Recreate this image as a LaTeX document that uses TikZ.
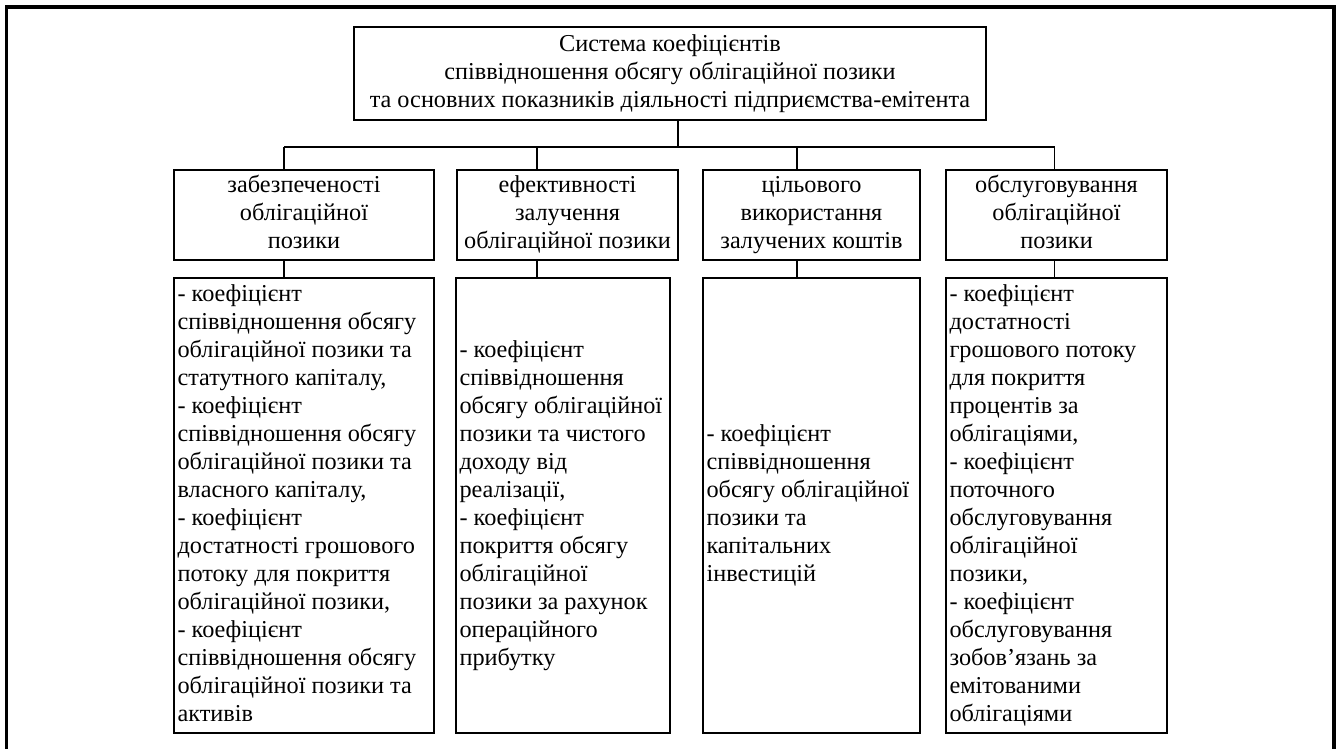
\documentclass[tikz,border=0pt]{standalone}
\usepackage{fontspec}
\setmainfont{Liberation Serif}
\begin{document}
\begin{tikzpicture}[x=0.75pt,y=-0.75pt,
  box/.style={draw,line width=1.1pt,rectangle,inner sep=0pt},
  txt/.style={font=\fontsize{18.2}{21}\selectfont,inner sep=0pt},
  link/.style={line width=1.1pt}]
\useasboundingbox (0,0) rectangle (1336,749);
\draw[line width=2.3pt] (6.5,752) -- (6.5,7) -- (1334,7) -- (1334,752);
% top box
\node[box,minimum width=632*0.75pt,minimum height=93*0.75pt] (top) at (670,73.5) {};
\node[txt,align=center] (toptxt) at (670,73.5) {\strut Система коефіцієнтів\\співвідношення обсягу облігаційної позики\\та основних показників діяльності підприємства-емітента\strut};
% middle boxes
\node[box,minimum width=260*0.75pt,minimum height=90*0.75pt] (b1) at (304,215) {};
\node[box,minimum width=221*0.75pt,minimum height=90*0.75pt] (b2) at (567.5,215) {};
\node[box,minimum width=217*0.75pt,minimum height=90*0.75pt] (b3) at (811.5,215) {};
\node[box,minimum width=221*0.75pt,minimum height=90*0.75pt] (b4) at (1056.5,215) {};
\node[txt,align=center] (b1t) at (b1) {\strut забезпеченості\\облігаційної\\позики\strut};
\node[txt,align=center] (b2t) at (b2) {\strut ефективності\\залучення\\облігаційної позики\strut};
\node[txt,align=center] (b3t) at (b3) {\strut цільового\\використання\\залучених коштів\strut};
\node[txt,align=center] (b4t) at (b4) {\strut обслуговування\\облігаційної\\позики\strut};
% lower boxes
\node[box,minimum width=260*0.75pt,minimum height=455*0.75pt] (l1) at (304,505.5) {};
\node[box,minimum width=214*0.75pt,minimum height=455*0.75pt] (l2) at (563,505.5) {};
\node[box,minimum width=217*0.75pt,minimum height=455*0.75pt] (l3) at (811.5,505.5) {};
\node[box,minimum width=221*0.75pt,minimum height=455*0.75pt] (l4) at (1056.5,505.5) {};
\node[txt,align=left,anchor=west] (l1t) at ([xshift=3pt]l1.west) {\strut - коефіцієнт\\співвідношення обсягу\\облігаційної позики та\\статутного капіталу,\\- коефіцієнт\\співвідношення обсягу\\облігаційної позики та\\власного капіталу,\\- коефіцієнт\\достатності грошового\\потоку для покриття\\облігаційної позики,\\- коефіцієнт\\співвідношення обсягу\\облігаційної позики та\\активів\strut};
\node[txt,align=left,anchor=west] (l2t) at ([xshift=3pt]l2.west) {\strut - коефіцієнт\\співвідношення\\обсягу облігаційної\\позики та чистого\\доходу від\\реалізації,\\- коефіцієнт\\покриття обсягу\\облігаційної\\позики за рахунок\\операційного\\прибутку\strut};
\node[txt,align=left,anchor=west] (l3t) at ([xshift=3pt]l3.west) {\strut - коефіцієнт\\співвідношення\\обсягу облігаційної\\позики та\\капітальних\\інвестицій\strut};
\node[txt,align=left,anchor=west] (l4t) at ([xshift=3pt]l4.west) {\strut - коефіцієнт\\достатності\\грошового потоку\\для покриття\\процентів за\\облігаціями,\\- коефіцієнт\\поточного\\обслуговування\\облігаційної\\позики,\\- коефіцієнт\\обслуговування\\зобов’язань за\\емітованими\\облігаціями\strut};
% connectors
\coordinate (j0) at (678,147);
\coordinate (j1) at (284,147);
\coordinate (j2) at (537,147);
\coordinate (j3) at (797,147);
\coordinate (j4) at (1054.5,147);
\draw[link] (top.south -| j0) -- (j0);
\draw[link] (j1) -- (j4);
\draw[link] (j1) -- (j1 |- b1.north);
\draw[link] (j2) -- (j2 |- b2.north);
\draw[link] (j3) -- (j3 |- b3.north);
\draw[link] (j4) -- (j4 |- b4.north);
\draw[link] (b1.south -| j1) -- (l1.north -| j1);
\draw[link] (b2.south -| j2) -- (l2.north -| j2);
\draw[link] (b3.south -| j3) -- (l3.north -| j3);
\draw[link] (b4.south -| j4) -- (l4.north -| j4);
\end{tikzpicture}
\end{document}
